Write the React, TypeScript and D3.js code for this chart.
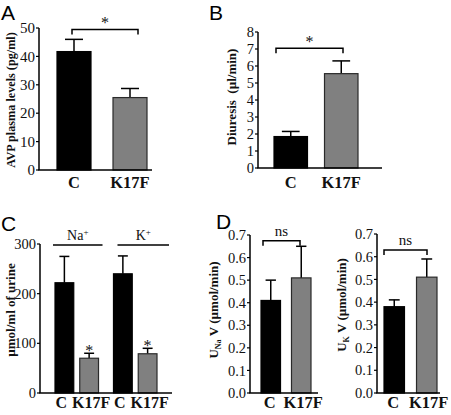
import React from 'react';
import * as d3 from 'd3';

const W = 451;
const H = 415;

// ---- data ----
const groups = ['C', 'K17F'];
const avpMean = [41.7, 25.5];
const avpErr = [46, 28.7];
const avpTicks = [0, 10, 20, 30, 40, 50];

const diuresisMean = [1.85, 5.55];
const diuresisErr = [2.15, 6.3];
const diuresisTicks = [0, 1, 2, 3, 4, 5, 6, 7, 8];

const ions = ['Na', 'K'];
const naMean = [222, 70];
const naErr = [275, 80];
const kMean = [240, 79];
const kErr = [276, 90];
const ionTicks = [0, 100, 200, 300];

const unaMean = [0.41, 0.51];
const unaErr = [0.5, 0.65];
const ukMean = [0.38, 0.51];
const ukErr = [0.41, 0.59];
const fluxTicks = [0, 0.1, 0.2, 0.3, 0.4, 0.5, 0.6, 0.7];

const fills = ['#000000', '#808080'];
const strokes = ['#000000', '#2a2a2a'];

const SERIF = '"Liberation Serif", "Times New Roman", serif';
const SANS = '"Liberation Sans", Arial, sans-serif';

type Bar = { x: number; w: number; mean: number; err: number; i: number };

function Axis({ axisX, axisEnd, y, ticks, fmt, fontSize = 14.5 }: any) {
  const [d0, d1] = y.domain();
  return (
    <g>
      <line x1={axisX} x2={axisX} y1={y(d1)} y2={y(d0)} stroke="#000" strokeWidth={1.5} />
      <line x1={axisX - 0.75} x2={axisEnd} y1={y(d0)} y2={y(d0)} stroke="#000" strokeWidth={1.5} />
      {ticks.map((t: number) => (
        <g key={t}>
          <line x1={axisX - 3} x2={axisX} y1={y(t)} y2={y(t)} stroke="#000" strokeWidth={1.2} />
          <text x={axisX - 4} y={y(t)} dy="0.35em" textAnchor="end" fontFamily={SERIF} fontSize={fontSize} fill="#111">
            {fmt(t)}
          </text>
        </g>
      ))}
    </g>
  );
}

function Bars({ bars, y }: { bars: Bar[]; y: any }) {
  return (
    <g>
      {bars.map((b, k) => {
        const cx = b.x + b.w / 2;
        const cw = b.w * 0.53;
        return (
          <g key={k}>
            <line x1={cx} x2={cx} y1={y(b.mean)} y2={y(b.err)} stroke="#000" strokeWidth={1.5} />
            <line x1={cx - cw / 2} x2={cx + cw / 2} y1={y(b.err)} y2={y(b.err)} stroke="#000" strokeWidth={1.5} />
            <rect x={b.x} y={y(b.mean)} width={b.w} height={y(0) - y(b.mean)} fill={fills[b.i]} stroke={strokes[b.i]} strokeWidth={1.2} />
          </g>
        );
      })}
    </g>
  );
}

function Bracket({ x1, x2, yy, label, fontSize = 16, ly }: any) {
  return (
    <g>
      <path d={`M${x1},${yy + 5}V${yy}H${x2}V${yy + 5}`} fill="none" stroke="#000" strokeWidth={1.5} />
      <text x={(x1 + x2) / 2} y={ly} textAnchor="middle" fontFamily={SERIF} fontSize={fontSize} fill="#111">
        {label}
      </text>
    </g>
  );
}

function XLabels({ x, cats, yy, fontSize = 16.5 }: any) {
  return (
    <g>
      {cats.map((c: string, k: number) => (
        <text key={k} x={x(k)} y={yy} textAnchor="middle" fontFamily={SERIF} fontWeight="bold" fontSize={fontSize} fill="#111">
          {c}
        </text>
      ))}
    </g>
  );
}

function YLabel({ x, y, children, fontSize = 13 }: any) {
  return (
    <text transform={`translate(${x},${y}) rotate(-90)`} textAnchor="middle" fontFamily={SERIF} fontWeight="bold" fontSize={fontSize} fill="#111">
      {children}
    </text>
  );
}

function PanelLetter({ x, y, t }: any) {
  return (
    <text x={x} y={y} fontFamily={SANS} fontSize={21} fill="#000">
      {t}
    </text>
  );
}

export default function App() {
  // ---------- Panel A ----------
  const yA = d3.scaleLinear().domain([0, 50]).range([170, 28]);
  const xA = d3.scaleBand().domain(groups).range([57, 147]).paddingInner(0.393).paddingOuter(0);
  const barsA: Bar[] = groups.map((g, i) => ({ x: xA(g)!, w: xA.bandwidth(), mean: avpMean[i], err: avpErr[i], i }));

  // ---------- Panel B ----------
  const yB = d3.scaleLinear().domain([0, 8]).range([168, 32]);
  const xB = d3.scaleBand().domain(groups).range([274, 358]).paddingInner(0.337).paddingOuter(0);
  const barsB: Bar[] = groups.map((g, i) => ({ x: xB(g)!, w: xB.bandwidth(), mean: diuresisMean[i], err: diuresisErr[i], i }));

  // ---------- Panel C ----------
  const yC = d3.scaleLinear().domain([0, 300]).range([393, 244]);
  const gC = d3.scaleBand().domain(ions).range([55, 157]).paddingInner(0.256).paddingOuter(0);
  const xCin = d3.scaleBand().domain(groups).range([0, gC.bandwidth()]).paddingInner(0.242).paddingOuter(0);
  const ionMeans = [naMean, kMean];
  const ionErrs = [naErr, kErr];
  const barsC: Bar[] = [];
  ions.forEach((ion, j) => {
    groups.forEach((g, i) => {
      barsC.push({ x: gC(ion)! + xCin(g)!, w: xCin.bandwidth(), mean: ionMeans[j][i], err: ionErrs[j][i], i });
    });
  });

  // ---------- Panel D ----------
  const yDL = d3.scaleLinear().domain([0, 0.7]).range([393, 235]);
  const xDL = d3.scaleBand().domain(groups).range([261, 311]).paddingInner(0.36).paddingOuter(0);
  const barsDL: Bar[] = groups.map((g, i) => ({ x: xDL(g)!, w: xDL.bandwidth(), mean: unaMean[i], err: unaErr[i], i }));

  const yDR = d3.scaleLinear().domain([0, 0.7]).range([393, 234]);
  const xDR = d3.scaleBand().domain(groups).range([384, 437]).paddingInner(0.37).paddingOuter(0);
  const barsDR: Bar[] = groups.map((g, i) => ({ x: xDR(g)!, w: xDR.bandwidth(), mean: ukMean[i], err: ukErr[i], i }));

  const f0 = (t: number) => d3.format('d')(t);
  const f1 = (t: number) => d3.format('.1f')(t);

  const cx = (sc: any) => (k: number) => sc(groups[k])! + sc.bandwidth() / 2;

  return (
    <svg width={W} height={H} style={{ position: 'absolute', left: 0, top: 0, background: '#fff' }}>
      <rect width={W} height={H} fill="#fff" />

      {/* A */}
      <PanelLetter x={1} y={20} t="A" />
      <Bars bars={barsA} y={yA} />
      <Axis axisX={39} axisEnd={152} y={yA} ticks={avpTicks} fmt={f0} fontSize={15} />
      <Bracket x1={72} x2={138} yy={yA(49.5)} label="*" ly={yA(49.5) - 1} />
      <XLabels x={cx(xA)} cats={groups} yy={188} />
      <YLabel x={15} y={100} fontSize={12.2}>AVP plasma levels (pg/ml)</YLabel>

      {/* B */}
      <PanelLetter x={209} y={20} t="B" />
      <Bars bars={barsB} y={yB} />
      <Axis axisX={258} axisEnd={382} y={yB} ticks={diuresisTicks} fmt={f0} />
      <Bracket x1={276} x2={343} yy={yB(7.05)} label="*" ly={yB(7.05) - 1} />
      <XLabels x={cx(xB)} cats={groups} yy={188} />
      <YLabel x={236} y={97}>Diuresis{'\u00a0\u00a0'}(µl/min)</YLabel>

      {/* C */}
      <PanelLetter x={1} y={231} t="C" />
      <Bars bars={barsC} y={yC} />
      <Axis axisX={40} axisEnd={172} y={yC} ticks={ionTicks} fmt={f0} />
      {ions.map((ion, j) => {
        const x1 = gC(ion)! - 2 + j * 6;
        const x2 = gC(ion)! + gC.bandwidth() + 4 + j * 8;
        return (
          <g key={ion}>
            <line x1={x1} x2={x2} y1={yC(298)} y2={yC(298)} stroke="#000" strokeWidth={1.5} />
            <text x={(x1 + x2) / 2} y={yC(298) - 5} textAnchor="middle" fontFamily={SERIF} fontSize={14} fill="#111">
              {ion}
              <tspan dy={-5} fontSize={9}>+</tspan>
            </text>
          </g>
        );
      })}
      {barsC.filter((b) => b.i === 1).map((b, k) => (
        <text key={k} x={b.x + b.w / 2} y={yC(b.err) + 3} textAnchor="middle" fontFamily={SERIF} fontSize={16} fill="#111">*</text>
      ))}
      <XLabels
        x={(k: number) => barsC[k].x + barsC[k].w / 2 + (barsC[k].i === 1 ? 2 : -3)}
        cats={['C', 'K17F', 'C', 'K17F']}
        yy={408}
        fontSize={16}
      />
      <YLabel x={15} y={310}>µmol/ml of urine</YLabel>

      {/* D */}
      <PanelLetter x={216} y={229} t="D" />
      <Bars bars={barsDL} y={yDL} />
      <Axis axisX={250} axisEnd={318} y={yDL} ticks={fluxTicks} fmt={f1} />
      <Bracket x1={263} x2={300} yy={yDL(0.675)} label="ns" fontSize={15} ly={yDL(0.675) - 5} />
      <XLabels x={(k: number) => cx(xDL)(k) + (k === 1 ? 2 : -1)} cats={groups} yy={408} />
      <YLabel x={218} y={310}>
        U<tspan fontSize={8} dy={3}>Na</tspan><tspan dy={-3}>{'\u00a0'}V (µmol/min)</tspan>
      </YLabel>

      <Bars bars={barsDR} y={yDR} />
      <Axis axisX={377} axisEnd={440} y={yDR} ticks={fluxTicks} fmt={f1} />
      <Bracket x1={384} x2={427} yy={yDR(0.63)} label="ns" fontSize={15} ly={yDR(0.63) - 5} />
      <XLabels x={(k: number) => cx(xDR)(k) + (k === 1 ? 2 : -1)} cats={groups} yy={408} />
      <YLabel x={346} y={305}>
        U<tspan fontSize={8} dy={3}>K</tspan><tspan dy={-3}>{'\u00a0'}V (µmol/min)</tspan>
      </YLabel>
    </svg>
  );
}
